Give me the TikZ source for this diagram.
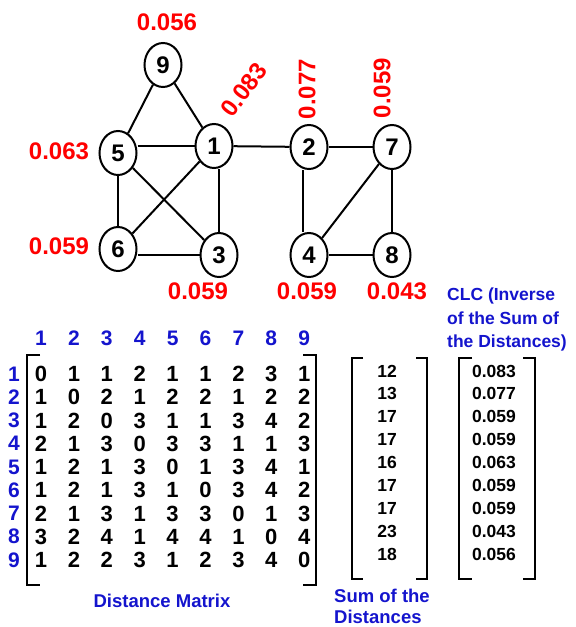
\documentclass[tikz,border=0pt]{standalone}
\usepackage{fontspec}
\setmainfont{Liberation Sans}
\usetikzlibrary{shapes.geometric}
\definecolor{lblred}{RGB}{255,0,0}
\definecolor{lblblue}{RGB}{20,20,205}
\begin{document}
\begin{tikzpicture}[x=1pt,y=-1pt,
  vert/.style={ellipse,draw,line width=2pt,minimum width=37pt,minimum height=44pt,inner sep=0pt,font={\fontsize{24}{24}\selectfont\bfseries}},
  edge/.style={line width=2pt},
  clclbl/.style={text=lblred,font={\fontsize{24}{24}\selectfont\bfseries},inner sep=0pt},
  mnum/.style={font={\fontsize{22}{22}\selectfont\bfseries},inner sep=0pt},
  hdr/.style={text=lblblue,font={\fontsize{21}{21}\selectfont\bfseries},inner sep=0pt},
  snum/.style={font={\fontsize{17.5}{17.5}\selectfont\bfseries},inner sep=0pt},
  captxt/.style={text=lblblue,font={\fontsize{18.5}{18.5}\selectfont\bfseries},inner sep=0pt},
  brk/.style={line width=2.5pt}]
\useasboundingbox (0,0) rectangle (576,627);

% graph vertices
\node[vert] (9) at (163,65) {9};
\node[vert] (5) at (118,153) {5};
\node[vert] (1) at (214,146) {1};
\node[vert] (2) at (309,147) {2};
\node[vert] (7) at (392,147) {7};
\node[vert] (6) at (118,249) {6};
\node[vert] (3) at (219,255) {3};
\node[vert] (4) at (309,255) {4};
\node[vert] (8) at (392,255) {8};

% edges
\draw[edge] (9) -- (5);
\draw[edge] (9) -- (1);
\draw[edge] (5.east |- 1.west) -- (1.west);
\draw[edge] (1) -- (2);
\draw[edge] (2) -- (7);
\draw[edge] (5) -- (6);
\draw[edge] (5) -- (3);
\draw[edge] (1) -- (6);
\draw[edge] (1.south -| 3.north) -- (3.north);
\draw[edge] (6.east |- 3.west) -- (3.west);
\draw[edge] ([xshift=-6pt]2.south) -- ([xshift=-6pt]4.north);
\draw[edge] (4) -- (7);
\draw[edge] (7) -- (8);
\draw[edge] (4) -- (8);

% closeness labels
\node[clclbl] (l9) at (167,22) {0.056};
\node[clclbl] (l5) at (59,151) {0.063};
\node[clclbl] (l6) at (59,246) {0.059};
\node[clclbl] (l3) at (198,291) {0.059};
\node[clclbl] (l4) at (307,291) {0.059};
\node[clclbl] (l8) at (397,291) {0.043};
\node[clclbl,rotate=53] (l1) at (244,90) {0.083};
\node[clclbl,rotate=90] (l2) at (307,89) {0.077};
\node[clclbl,rotate=90] (l7) at (382,88) {0.059};

% matrix headers
\foreach \c in {1,...,9} {
  \node[hdr] (h\c) at ({41+32.9*(\c-1)},338) {\c};
  \node[hdr] (r\c) at (14,{374+23.25*(\c-1)}) {\c};
}
% matrix entries
\foreach \v [count=\c] in {0,1,1,2,1,1,2,3,1} \node[mnum] (m1\c) at ({41+32.9*(\c-1)},374) {\v};
\foreach \v [count=\c] in {1,0,2,1,2,2,1,2,2} \node[mnum] (m2\c) at ({41+32.9*(\c-1)},397.25) {\v};
\foreach \v [count=\c] in {1,2,0,3,1,1,3,4,2} \node[mnum] (m3\c) at ({41+32.9*(\c-1)},420.5) {\v};
\foreach \v [count=\c] in {2,1,3,0,3,3,1,1,3} \node[mnum] (m4\c) at ({41+32.9*(\c-1)},443.75) {\v};
\foreach \v [count=\c] in {1,2,1,3,0,1,3,4,1} \node[mnum] (m5\c) at ({41+32.9*(\c-1)},467) {\v};
\foreach \v [count=\c] in {1,2,1,3,1,0,3,4,2} \node[mnum] (m6\c) at ({41+32.9*(\c-1)},490.25) {\v};
\foreach \v [count=\c] in {2,1,3,1,3,3,0,1,3} \node[mnum] (m7\c) at ({41+32.9*(\c-1)},513.5) {\v};
\foreach \v [count=\c] in {3,2,4,1,4,4,1,0,4} \node[mnum] (m8\c) at ({41+32.9*(\c-1)},536.75) {\v};
\foreach \v [count=\c] in {1,2,2,3,1,2,3,4,0} \node[mnum] (m9\c) at ({41+32.9*(\c-1)},560) {\v};

% sum and CLC columns
\foreach \s/\q [count=\i] in {12/0.083,13/0.077,17/0.059,17/0.059,16/0.063,17/0.059,17/0.059,23/0.043,18/0.056} {
  \node[snum] (s\i) at (387,{371+22.9*(\i-1)}) {\s};
  \node[snum] (q\i) at (494,{371+22.9*(\i-1)}) {\q};
}

% brackets
\draw[brk] (40,355) -- (27,355) -- (27,585) -- (40,585);
\draw[brk] (303,355) -- (316,355) -- (316,585) -- (303,585);
\draw[brk] (363,358) -- (352,358) -- (352,579) -- (363,579);
\draw[brk] (416,358) -- (427,358) -- (427,579) -- (416,579);
\draw[brk] (472,358) -- (459,358) -- (459,579) -- (472,579);
\draw[brk] (523,358) -- (535,358) -- (535,579) -- (523,579);

% captions
\node[captxt,anchor=base] (dm) at (162,607) {Distance Matrix};
\node[captxt,anchor=base west] (sd1) at (334,602) {Sum of the};
\node[captxt,anchor=base west] (sd2) at (334,623) {Distances};
\node[captxt,font={\fontsize{17.5}{17.5}\selectfont\bfseries},anchor=base west] (c1) at (447,300.5) {CLC (Inverse};
\node[captxt,font={\fontsize{17.5}{17.5}\selectfont\bfseries},anchor=base west] (c2) at (447,324) {of the Sum of};
\node[captxt,font={\fontsize{17.5}{17.5}\selectfont\bfseries},anchor=base west] (c3) at (447,347) {the Distances)};
\end{tikzpicture}
\end{document}
